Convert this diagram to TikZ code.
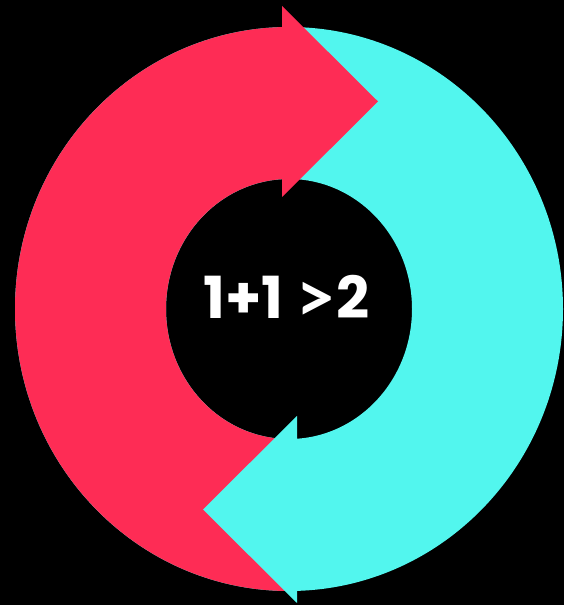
\documentclass[tikz,border=0pt]{standalone}
\usepackage{fontspec}
\usepackage{graphicx}
\newfontfamily\pop{Poppins}
\newfontfamily\gt{Lato}
\definecolor{ttred}{HTML}{FE2C55}
\definecolor{ttcyan}{HTML}{52F6EE}
\begin{document}
\begin{tikzpicture}[x=1pt,y=1pt,
  ring/.style={even odd rule},
  lbl/.style={text=white,font=\pop\bfseries\fontsize{58}{62}\selectfont,inner sep=0pt}]
\fill[black] (0,0) rectangle (564,605);
\useasboundingbox (0,0) rectangle (564,605);
\coordinate (c) at (289,296);
% cyan full ring
\fill[ttcyan,ring] (c) ellipse [x radius=274,y radius=282] (c) ellipse [x radius=123,y radius=130];
% red left half
\begin{scope}
\clip (0,0) -- (295,0) -- (295,296) -- (284,296) -- (284,605) -- (0,605) -- cycle;
\fill[ttred,ring] (c) ellipse [x radius=274,y radius=282] (c) ellipse [x radius=123,y radius=130];
\end{scope}
% heads
\coordinate (rt) at (282,599);
\coordinate (rtip) at (378,503.5);
\coordinate (rb) at (282,408);
\fill[ttred] (rt) -- (rtip) -- (rb) -- cycle;
\coordinate (ct) at (297,189);
\coordinate (ctip) at (203,95.5);
\coordinate (cb) at (297,2);
\fill[ttcyan] (ct) -- (ctip) -- (cb) -- cycle;
\node[lbl] (t) at (286.5,306) {1+1 \raisebox{-4pt}{\scalebox{1.22}{\gt\bfseries >}}2};
\end{tikzpicture}
\end{document}
